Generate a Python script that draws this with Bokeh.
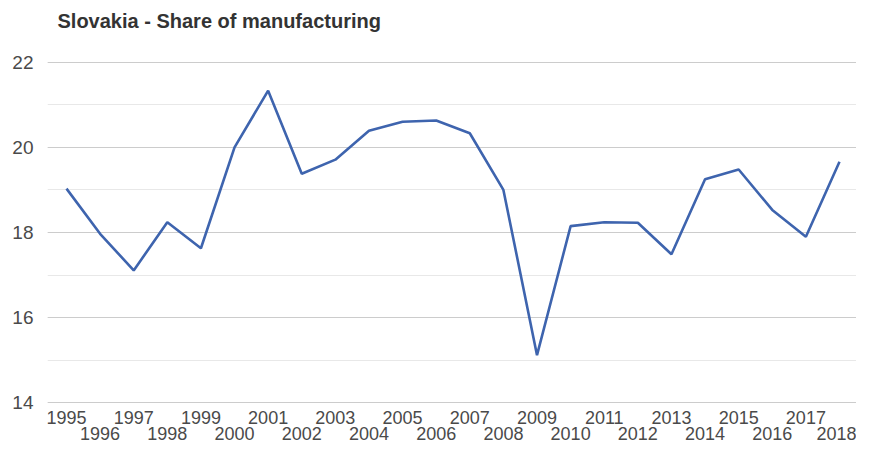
from bokeh.plotting import figure
from bokeh.models import Range1d, FixedTicker, LinearAxis, SingleIntervalTicker, ColumnDataSource, Title
from bokeh.embed import file_html
from bokeh.resources import INLINE

title_text = "Slovakia - Share of manufacturing"
years = list(range(1995, 2019))
share = [19.03, 17.97, 17.11, 18.24, 17.63, 20.0, 21.33, 19.38, 19.71, 20.39, 20.6, 20.63,
         20.33, 19.0, 15.12, 18.15, 18.24, 18.23, 17.49, 19.25, 19.48, 18.53, 17.9, 19.66]
y_ticks = [14, 16, 18, 20, 22]
odd_years = years[0::2]
even_years = years[1::2]

FONT = "Liberation Sans"
LABEL_COLOR = "#4a4a4a"

p = figure(width=856, height=442, output_backend="svg", toolbar_location=None, title=None,
           x_range=Range1d(1994.435, 2018.506), y_range=Range1d(13.985, 22.015),
           min_border_left=47, min_border_right=0, min_border_top=0, min_border_bottom=0)
p.outline_line_color = None
p.background_fill_color = "white"

# spacer (closest to frame), then the visible title above it
spacer = Title(text=" ", text_font_size="1px", standoff=20)
p.add_layout(spacer, "above")
main_title = Title(text=title_text, text_font=FONT, text_font_size="20px",
                   text_font_style="bold", text_color="#333333", align="left",
                   offset=10, standoff=14)
p.add_layout(main_title, "above")

src = ColumnDataSource(dict(x=years, y=share))
p.line("x", "y", source=src, line_color="#3e64ae", line_width=2.6)

# y axis
p.yaxis.ticker = SingleIntervalTicker(interval=2, num_minor_ticks=2)
p.yaxis.axis_line_color = None
p.yaxis.major_tick_line_color = None
p.yaxis.minor_tick_line_color = None
p.yaxis.major_tick_out = 0
p.yaxis.major_tick_in = 0
p.yaxis.major_label_standoff = 10
p.yaxis.major_label_text_font = FONT
p.yaxis.major_label_text_font_size = "19px"
p.yaxis.major_label_text_color = LABEL_COLOR

p.ygrid.ticker = SingleIntervalTicker(interval=2, num_minor_ticks=2)
p.ygrid.grid_line_color = "#cccccc"
p.ygrid.grid_line_width = 1
p.ygrid.minor_grid_line_color = "#e8e8e8"
p.ygrid.minor_grid_line_width = 1
p.xgrid.grid_line_color = None

# x axes (staggered)
ax1 = p.xaxis[0]
ax1.ticker = FixedTicker(ticks=odd_years)
ax2 = LinearAxis(ticker=FixedTicker(ticks=even_years))
p.add_layout(ax2, "below")
for ax in (ax1, ax2):
    ax.axis_line_color = None
    ax.major_tick_line_color = None
    ax.minor_tick_line_color = None
    ax.major_tick_out = 0
    ax.major_tick_in = 0
    ax.major_label_text_font = FONT
    ax.major_label_text_font_size = "18px"
    ax.major_label_text_color = LABEL_COLOR
ax1.major_label_standoff = 7
ax2.major_label_standoff = 0

open("out.html", "w").write(file_html(p, INLINE))
